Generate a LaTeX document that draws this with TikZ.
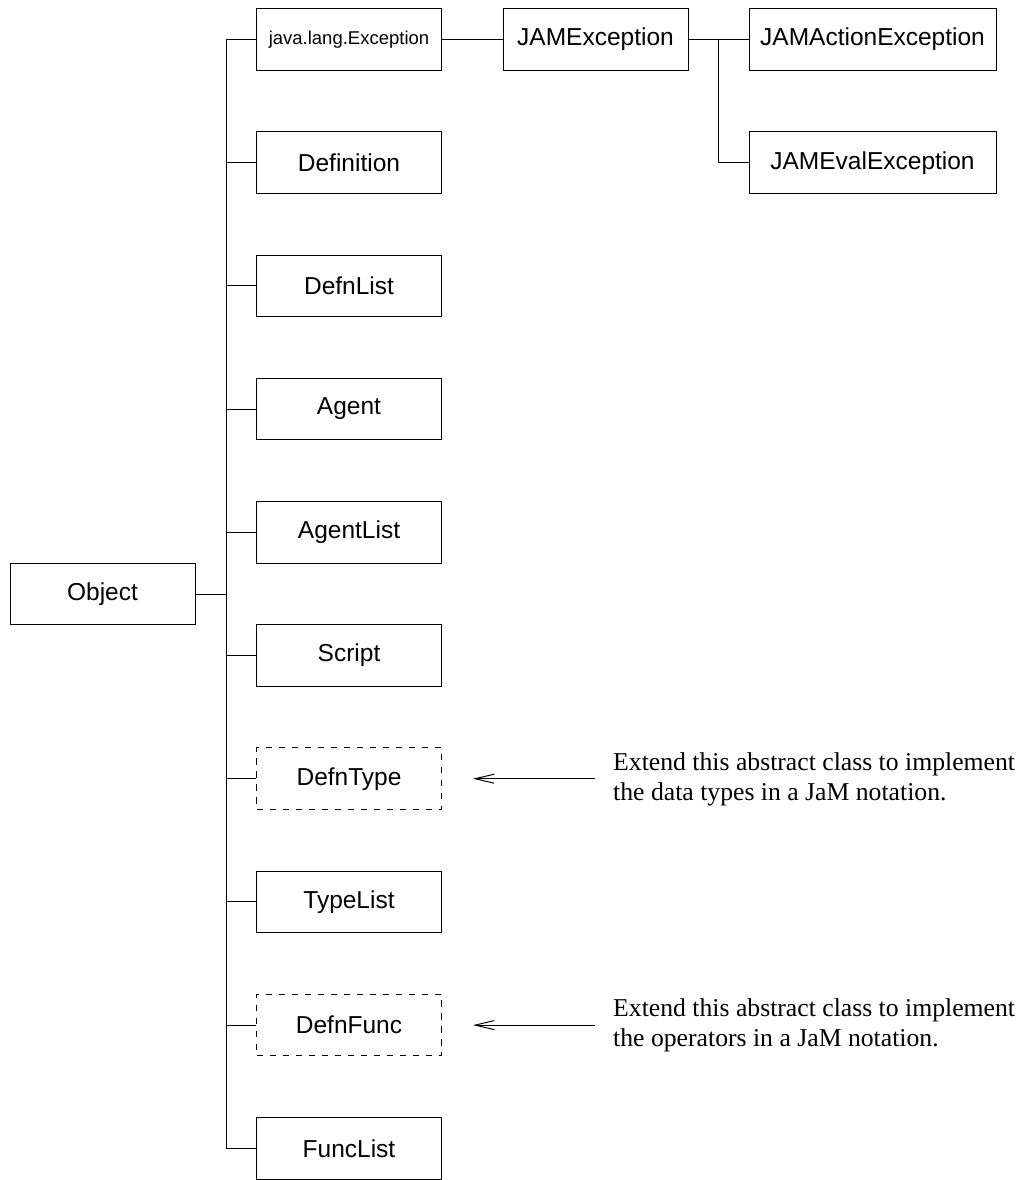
\documentclass[tikz,border=0pt]{standalone}
\usepackage{fontspec}
\setmainfont{Liberation Sans}
\newfontfamily\serifnote{Liberation Serif}
\usetikzlibrary{arrows.meta}
\begin{document}
\begin{tikzpicture}[x=1pt,y=-1pt,
  cls/.style={draw, line width=1pt, minimum width=185pt, minimum height=61.5pt, inner sep=0pt, font=\fontsize{24.5}{28}\selectfont},
  smallcls/.style={cls, font=\fontsize{18.5}{22}\selectfont},
  abscls/.style={cls, dash pattern=on 6.5pt off 6.5pt},
  widecls/.style={cls, minimum width=247pt},
  link/.style={line width=1pt},
  note/.style={font=\serifnote\fontsize{25.7}{30}\selectfont, align=left, anchor=west, inner sep=0pt},
  ptr/.style={line width=1pt, -{Straight Barb[length=19pt, width=9pt, line width=1pt]}}]
\useasboundingbox (0,0) rectangle (1020,1180);
% root
\node[cls] (object) at (102.5,594) {Object};
\coordinate (trunk) at (226,594);
% children of Object
\node[smallcls] (javaexc) at (349,39.5) {java.lang.Exception};
\node[cls] (definition) at (349,162.7) {Definition};
\node[cls] (defnlist) at (349,285.9) {DefnList};
\node[cls] (agent) at (349,409.1) {Agent};
\node[cls] (agentlist) at (349,532.3) {AgentList};
\node[cls] (script) at (349,655.5) {Script};
\node[abscls] (defntype) at (349,778.7) {DefnType};
\node[cls] (typelist) at (349,901.9) {TypeList};
\node[abscls] (defnfunc) at (349,1025.1) {DefnFunc};
\node[cls] (funclist) at (349,1148.3) {FuncList};
% exception subtree
\node[cls] (jamexc) at (595.5,39.5) {JAMException};
\node[widecls] (jamaction) at (872.5,39.5) {JAMActionException};
\node[widecls] (jameval) at (872.5,162.7) {JAMEvalException};
\coordinate (excbranch) at (718,39.5);
% connectors
\draw[link] (object.east) -- (trunk);
\foreach \c in {javaexc,definition,defnlist,agent,agentlist,script,defntype,typelist,defnfunc,funclist}
  \draw[link] (\c.west) -| (trunk);
\draw[link] (javaexc.east) -- (jamexc.west);
\draw[link] (jamexc.east) -- (jamaction.west);
\draw[link] (excbranch) |- (jameval.west);
% notes
\node[note] (note1) at (613,779) {Extend this abstract class to implement\\the data types in a JaM notation.};
\node[note] (note2) at (613,1025) {Extend this abstract class to implement\\the operators in a JaM notation.};
\coordinate (tail1) at (595,778.7);
\coordinate (tail2) at (595,1025.1);
\draw[ptr, shorten >=31pt] (tail1) -- (defntype);
\draw[ptr, shorten >=31pt] (tail2) -- (defnfunc);
\end{tikzpicture}
\end{document}
